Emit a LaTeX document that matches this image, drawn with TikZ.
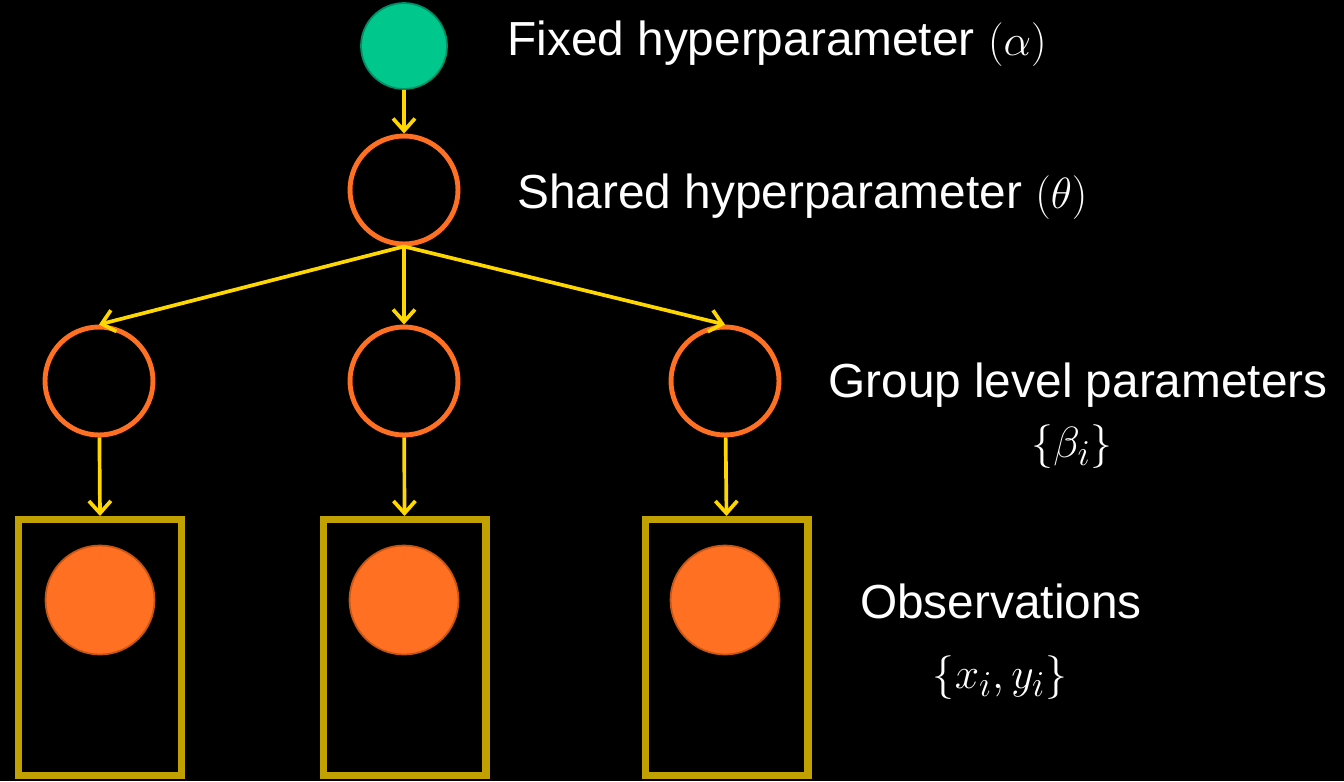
\documentclass[tikz,border=0pt]{standalone}
\usepackage{fontspec}
\setmainfont{Liberation Sans}
\usetikzlibrary{arrows.meta}

\definecolor{fixgreen}{RGB}{0,200,140}
\definecolor{fixgreenline}{RGB}{0,140,100}
\definecolor{paramorange}{RGB}{255,112,34}
\definecolor{obsline}{RGB}{200,85,20}
\definecolor{arrowyellow}{RGB}{255,215,0}
\definecolor{plategold}{RGB}{192,161,0}

\begin{document}
\begin{tikzpicture}[x=0.02cm, y=-0.02cm,
    fixednode/.style={circle, fill=fixgreen, draw=fixgreenline, line width=1pt, minimum size=1.72cm, inner sep=0pt},
    paramnode/.style={circle, draw=paramorange, line width=2.8pt, minimum size=2.16cm, inner sep=0pt},
    obsnode/.style={circle, fill=paramorange, draw=obsline, line width=1pt, minimum size=2.18cm, inner sep=0pt},
    plate/.style={rectangle, draw=plategold, line width=4pt, minimum width=3.26cm, minimum height=5.12cm, inner sep=0pt},
    edge/.style={arrowyellow, line width=2.1pt, -{Straight Barb[length=7pt,width=12.5pt]}},
    label/.style={text=white, font=\fontsize{27.2}{34}\selectfont, inner sep=0pt}]

    \fill[black] (0,0) rectangle (1344,781);
    \useasboundingbox (0,0) rectangle (1344,781);

    % nodes
    \node[fixednode] (alpha) at (404,46) {};
    \node[paramnode] (theta) at (404,190) {};

    \node[paramnode] (beta1) at (99,381) {};
    \node[paramnode] (beta2) at (404,381) {};
    \node[paramnode] (beta3) at (725,381) {};

    \node[plate] (plate1) at (100,647.5) {};
    \node[plate] (plate2) at (404.5,647.5) {};
    \node[plate] (plate3) at (726.5,647.5) {};

    \node[obsnode] (obs1) at (100,600) {};
    \node[obsnode] (obs2) at (404,600) {};
    \node[obsnode] (obs3) at (725,600) {};

    % arrows
    \draw[edge] (alpha) -- (theta);
    \draw[edge] (theta.south) -- (beta1.north);
    \draw[edge] (theta.south) -- (beta2.north);
    \draw[edge] (theta.south) -- (beta3.north);
    \draw[edge] (beta1) -- (plate1.north);
    \draw[edge] (beta2) -- (plate2.north);
    \draw[edge] (beta3) -- (plate3.north);

    % labels
    \node[label, anchor=base west] (fixedlabel) at (507,55) {Fixed hyperparameter $(\alpha)$};
    \node[label, anchor=base west] (sharedlabel) at (517,208) {Shared hyperparameter $(\theta)$};
    \node[label, anchor=base] (grouplabel) at (1078,397) {Group level parameters};
    \node[label, anchor=base] (betalabel) at (1072,457) {$\{\beta_i\}$};
    \node[label, anchor=base] (obslabel) at (1001,618) {Observations};
    \node[label, anchor=base] (xylabel) at (1000,688) {$\{x_i, y_i\}$};
\end{tikzpicture}
\end{document}
